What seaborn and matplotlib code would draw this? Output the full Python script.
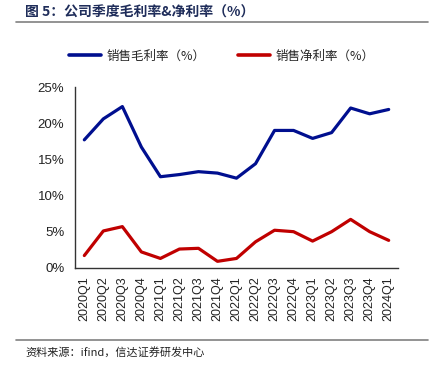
import matplotlib
matplotlib.use("Agg")
import matplotlib.pyplot as plt
from matplotlib.lines import Line2D
from matplotlib.ticker import FixedLocator, FuncFormatter
import pandas as pd
import seaborn as sns

quarters = ['2020Q1', '2020Q2', '2020Q3', '2020Q4', '2021Q1', '2021Q2', '2021Q3', '2021Q4',
            '2022Q1', '2022Q2', '2022Q3', '2022Q4', '2023Q1', '2023Q2', '2023Q3', '2023Q4', '2024Q1']
gross_margin = [17.7, 20.6, 22.3, 16.7, 12.6, 12.9, 13.3, 13.1, 12.4, 14.4, 19.0, 19.0, 17.9, 18.7, 22.1, 21.3, 21.9]
net_margin = [1.7, 5.1, 5.7, 2.2, 1.3, 2.6, 2.7, 0.9, 1.3, 3.6, 5.2, 5.0, 3.7, 5.0, 6.7, 5.0, 3.8]
series_names = ['销售毛利率（%）', '销售净利率（%）']
colors = ['#000F8F', '#C00000']

sns.set_style('white')
plt.rcParams['font.family'] = ['Liberation Sans', 'Noto Sans CJK SC', 'DejaVu Sans']

df = pd.DataFrame({
    'x': list(range(len(quarters))) * 2,
    'val': gross_margin + net_margin,
    'series': [series_names[0]] * len(quarters) + [series_names[1]] * len(quarters),
})

fig = plt.figure(figsize=(4.4, 3.72), dpi=100)
ax = fig.add_axes([0.170, 0.280, 0.735, 0.486])
sns.lineplot(data=df, x='x', y='val', hue='series', palette=colors, linewidth=2.3,
             legend=False, ax=ax)

n = len(quarters)
ax.set_xlim(-0.5, n - 0.5)
ax.set_ylim(0, 25)
ax.set_yticks([0, 5, 10, 15, 20, 25])
ax.yaxis.set_major_formatter(FuncFormatter(lambda v, p: f'{int(v)}%'))
# ticks sit between categories, labels at category centres
ax.xaxis.set_major_locator(FixedLocator([i + 0.5 for i in range(-1, n)]))
ax.xaxis.set_major_formatter(FuncFormatter(lambda v, p: ''))
ax.set_xticks(list(range(n)), minor=True)
ax.set_xticklabels(quarters, minor=True, rotation=90, fontsize=9, color='#222222')
ax.tick_params(axis='x', which='minor', length=0, pad=6)
ax.tick_params(axis='x', which='major', length=4, width=1, color='#333333', direction='out')
ax.tick_params(axis='y', length=4, width=1, color='#333333', direction='out', labelsize=9.5,
               labelcolor='#222222')
for side in ['top', 'right']:
    ax.spines[side].set_visible(False)
for side in ['left', 'bottom']:
    ax.spines[side].set_color('#333333')
    ax.spines[side].set_linewidth(1)
ax.set_xlabel('')
ax.set_ylabel('')

handles = [Line2D([], [], color=c, linewidth=2.6) for c in colors]
fig.legend(handles, series_names, loc='center', bbox_to_anchor=(0.503, 0.850), ncol=2,
           frameon=False, handlelength=2.6, handletextpad=0.4, columnspacing=2.6,
           prop={'family': ['Noto Sans CJK SC'], 'size': 9})

fig.text(0.057, 0.965, '图 5：公司季度毛利率&净利率（%）', fontsize=10, fontweight='bold',
         color='#1F2D5A', va='center', ha='left', family=['Noto Sans CJK SC'])
fig.add_artist(Line2D([0.036, 0.973], [0.94, 0.94], color='#808080', linewidth=1.2))
fig.add_artist(Line2D([0.036, 0.973], [0.086, 0.086], color='#808080', linewidth=1.2))
fig.text(0.057, 0.052, '资料来源：ifind，信达证券研发中心', fontsize=8, style='italic',
         color='#222222', va='center', ha='left', family=['Noto Sans CJK SC'])

fig.savefig('out.png', dpi=100)
